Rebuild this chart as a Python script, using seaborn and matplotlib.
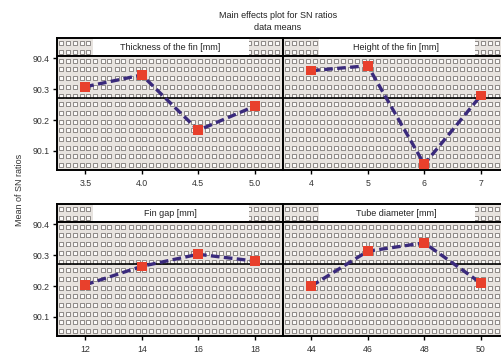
import numpy as np
import pandas as pd
import matplotlib
matplotlib.use("Agg")
import matplotlib.pyplot as plt
import seaborn as sns

# ---- data ----
thickness_levels = [3.5, 4.0, 4.5, 5.0]
thickness_sn = [90.308, 90.346, 90.167, 90.245]
height_levels = [4, 5, 6, 7]
height_sn = [90.360, 90.376, 90.057, 90.279]
gap_levels = [12, 14, 16, 18]
gap_sn = [90.204, 90.264, 90.303, 90.281]
tube_levels = [44, 46, 48, 50]
tube_sn = [90.200, 90.313, 90.340, 90.210]
overall_mean = 90.27
y_ticks = [90.1, 90.2, 90.3, 90.4]
panel_titles = ["Thickness of the fin [mm]", "Height of the fin [mm]",
                "Fin gap [mm]", "Tube diameter [mm]"]
x_tick_labels = [["3.5", "4.0", "4.5", "5.0"], ["4", "5", "6", "7"],
                 ["12", "14", "16", "18"], ["44", "46", "48", "50"]]

sns.set_theme(style="white")
plt.rcParams["font.family"] = ["Liberation Sans", "DejaVu Sans"]

W, H = 501, 354
fig = plt.figure(figsize=(W / 100, H / 100), dpi=100)


def box(x0, y0, w, h):
    return [x0 / W, 1 - (y0 + h) / H, w / W, h / H]


LINE = "#3a2a7c"
MARK = "#e8402c"
BG = "#e7e3df"


def pattern(ax, wpx, hpx, dx=7.0, dy=8.7, rows=None, xsel=None):
    nx = int(wpx // dx) + 1
    ny = int(hpx // dy) + 1 if rows is None else rows
    xs = (np.arange(nx) + 0.5) * dx / wpx
    ys = (np.arange(ny) + 0.5) * dy / hpx if rows is None else (np.arange(ny) + 0.5) / ny
    gx, gy = np.meshgrid(xs, ys)
    gx, gy = gx.ravel(), gy.ravel()
    if xsel is not None:
        m = xsel(gx)
        gx, gy = gx[m], gy[m]
    ax.scatter(gx, gy, transform=ax.transAxes, marker="s", s=10,
               facecolor="#fbfaf9", edgecolor="#878380", linewidths=0.65,
               zorder=0.5, clip_on=True)


panels = [
    (thickness_levels, thickness_sn, 57, 38, (3.25, 5.25)),
    (height_levels, height_sn, 283, 38, (3.5, 7.5)),
    (gap_levels, gap_sn, 57, 204, (11, 19)),
    (tube_levels, tube_sn, 283, 204, (43, 51)),
]

PW, HH, PH = 226, 18, 113.5
for i, (lv, sn, x0, y0, xl) in enumerate(panels):
    # header strip
    hax = fig.add_axes(box(x0, y0, PW, HH))
    hax.set_facecolor(BG)
    pattern(hax, PW, HH, rows=2, xsel=lambda g: (g < 0.16) | (g > 0.85))
    hax.add_patch(plt.Rectangle((0.16, 0), 0.69, 1, transform=hax.transAxes,
                                facecolor="white", edgecolor="none", zorder=1))
    hax.text(0.5, 0.5, panel_titles[i], transform=hax.transAxes, ha="center",
             va="center", fontsize=6.5, color="#222222", zorder=2)
    hax.set_xticks([]); hax.set_yticks([])
    for s in hax.spines.values():
        s.set_linewidth(1.4); s.set_color("black")

    ax = fig.add_axes(box(x0, y0 + HH, PW, PH))
    ax.set_facecolor(BG)
    pattern(ax, PW, PH)
    df = pd.DataFrame({"level": lv, "sn": sn})
    ax.axhline(overall_mean, color="black", lw=1.2, zorder=1)
    sns.lineplot(data=df, x="level", y="sn", ax=ax, color=LINE, lw=2.4,
                 linestyle=(0, (2.6, 1.3)), zorder=2)
    sns.scatterplot(data=df, x="level", y="sn", ax=ax, marker="s", s=48,
                    color=MARK, edgecolor="none", zorder=3)
    ax.set_xlim(*xl)
    ax.set_ylim(90.04, 90.4075)
    ax.set_xticks(lv)
    ax.set_xticklabels(x_tick_labels[i], fontsize=6.3, color="#333333")
    ax.set_xlabel(""); ax.set_ylabel("")
    ax.tick_params(axis="x", length=3, width=1, color="black", pad=3.5, bottom=True)
    if i % 2 == 0:
        ax.set_yticks(y_ticks)
        ax.set_yticklabels([f"{v:.1f}" for v in y_ticks], fontsize=6.3, color="#333333")
        ax.tick_params(axis="y", length=3, width=1, color="black", pad=2, left=True)
    else:
        ax.set_yticks(y_ticks)
        ax.tick_params(axis="y", length=0, labelleft=False)
    for s in ax.spines.values():
        s.set_linewidth(1.4); s.set_color("black")

fig.text(278 / W, 1 - 16 / H, "Main effects plot for SN ratios", ha="center",
         va="center", fontsize=6.5, color="#222222")
fig.text(278 / W, 1 - 28 / H, "data means", ha="center", va="center",
         fontsize=6.5, color="#222222")
fig.text(20 / W, 1 - 190 / H, "Mean of SN ratios", ha="center", va="center",
         rotation=90, fontsize=6.5, color="#333333")

fig.savefig("out.png", dpi=100)
